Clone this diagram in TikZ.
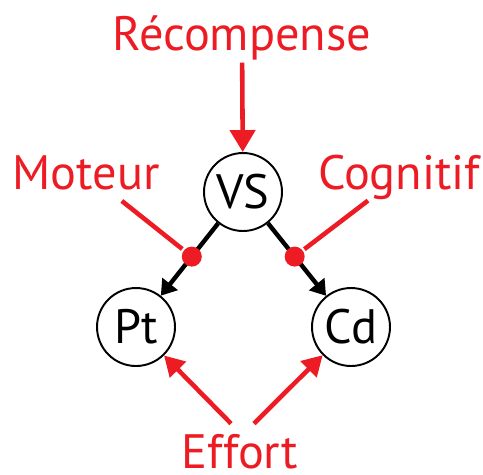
\documentclass[tikz,border=0pt]{standalone}
\usepackage{fontspec}
\setmainfont{PT Sans}
\usepackage{tikz}
\usetikzlibrary{arrows.meta}
\definecolor{rouge}{HTML}{ED1C24}

\begin{document}
\begin{tikzpicture}[x=0.02cm,y=-0.02cm,every node/.style={font=\fontsize{27.5}{32}\selectfont},
	etat/.style={draw,circle,line width=1.1pt,minimum size=1.56cm,inner sep=0},
	lbl/.style={text=rouge,inner sep=0.05cm,anchor=base}]
	\useasboundingbox (0,0) rectangle (483,474);
	
	\node[etat] (vs) at (243,192){VS};
	\node[etat] (pt) at (136,327){Pt};
	\node[etat] (cd) at (351,327){Cd};
	\node[lbl] (rec) at (242,50){Récompense};
	\node[lbl,inner ysep=0.22cm] (mot) at (86,189){Moteur};
	\node[lbl,inner sep=0.02cm] (cog) at (399,189){Cognitif};
	\node[lbl,inner sep=0.02cm] (eff) at (240,468){Effort};
	\begin{scope}[every node/.style={circle,fill=rouge,minimum size=0.4cm,inner sep=0}]
	%edges
	\draw[line width=2.5pt,-{Triangle[length=0.3cm,width=0.38cm]}] (vs) -- node[pos=.46] (mdot){} (pt);
	\draw[line width=2.5pt,-{Triangle[length=0.3cm,width=0.38cm]}] (vs) -- node[pos=.46] (cdot){} (cd);
	\end{scope}
	\begin{scope}[rouge,line width=2.6pt]
	\draw[-{Triangle[length=0.44cm,width=0.5cm]}] (rec) -- (vs);
	\draw (mot) -- (mdot);
	\draw (cog) -- (cdot);
	\draw[-{Triangle[length=0.4cm,width=0.44cm]}] ([xshift=-0.18cm,yshift=0.18cm]eff.north) -- (pt);
	\draw[-{Triangle[length=0.4cm,width=0.44cm]}] ([xshift=0.28cm,yshift=0.18cm]eff.north) -- (cd);
	\end{scope}
\end{tikzpicture}
\end{document}
